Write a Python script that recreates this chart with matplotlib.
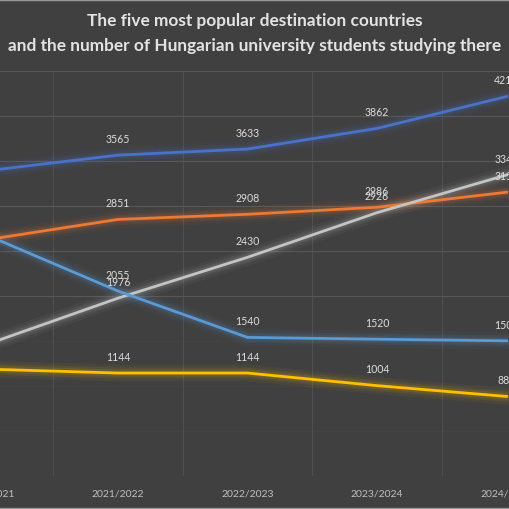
import matplotlib
matplotlib.use("Agg")
import matplotlib.pyplot as plt
from matplotlib.lines import Line2D

# school years (first and last are cut off by the crop of the original chart)
years = ["2020/2021", "2021/2022", "2022/2023", "2023/2024", "2024/2025"]

# students per destination country (series order as in the source chart)
austria = [3394, 3565, 3633, 3862, 4216]
germany = [2628, 2851, 2908, 2986, 3153]
netherlands = [1469, 1976, 2430, 2926, 3345]
slovakia = [1187, 1144, 1144, 1004, 884]
uk = [2668, 2055, 1540, 1520, 1502]

series = [austria, germany, netherlands, slovakia, uk]
colors = ["#4a72c8", "#ec7a36", "#c4c4c4", "#ffc000", "#5b9bd5"]

bg = "#404040"
grid_c = "#575757"

fig = plt.figure(figsize=(5.1, 5.1), dpi=100, facecolor=bg)
# plot area is wider than the image: the original picture was cropped
ax = fig.add_axes([-76.25 / 510, 33 / 510, 647.5 / 510, 405 / 510])
ax.set_facecolor(bg)

x = list(range(len(years)))
ax.set_xlim(-0.5, len(years) - 0.5)
ax.set_ylim(0, 4500)

# gridlines (they fade out towards the bottom in the original)
for v in range(500, 4501, 500):
    a = 1.0 if v >= 2000 else 0.15
    ax.axhline(v, color=grid_c, lw=0.8, alpha=a, zorder=0)
for g in [0.5, 1.5, 2.5, 3.5]:
    ax.axvline(g, color=grid_c, lw=0.8, alpha=0.7, zorder=0)

for vals, c in zip(series, colors):
    # soft glow under each line
    for w, a in [(12, 0.05), (8, 0.08), (5, 0.12)]:
        ax.plot(x, vals, color=c, lw=w, alpha=a, solid_capstyle="round", zorder=2)
    ax.plot(x, vals, color=c, lw=2.0, zorder=3)
    for xi, v in zip(x, vals):
        ax.annotate(str(v), (xi, v), xytext=(0, 12), textcoords="offset points",
                    ha="center", va="center", fontsize=7.6, family="Lato",
                    color="#dcdcdc", zorder=4)

ax.set_xticks(x)
ax.set_xticklabels(years, fontsize=7.5, family="Lato", color="#bfbfbf")
ax.tick_params(axis="x", length=0, pad=9)
ax.set_yticks([])
for s in ax.spines.values():
    s.set_visible(False)

fig.text(0.5, 1 - 21 / 510, "The five most popular destination countries",
         ha="center", va="center", fontsize=12.4, fontweight="bold",
         family="Lato", color="#e3e3e3")
fig.text(0.5, 1 - 46 / 510, "and the number of Hungarian university students studying there",
         ha="center", va="center", fontsize=12.4, fontweight="bold",
         family="Lato", color="#e3e3e3")

# thin light edges at top and bottom of the crop
fig.add_artist(Line2D([0, 1], [0.999, 0.999], color="#9a9a9a", lw=1))
fig.add_artist(Line2D([0, 1], [0.002, 0.002], color="#9a9a9a", lw=1))

fig.savefig("out.png", dpi=100, facecolor=bg)
